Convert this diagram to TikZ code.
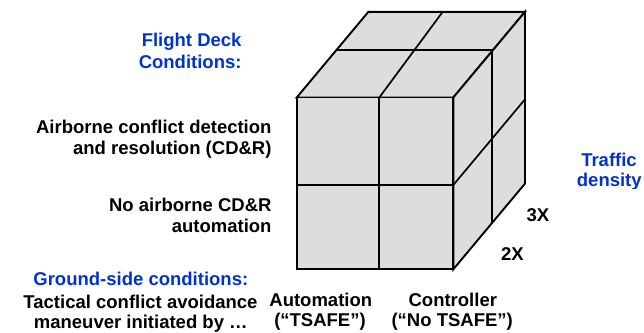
\documentclass[tikz,border=0pt]{standalone}
\usepackage{fontspec}
\setmainfont{Liberation Sans}
\definecolor{hdr}{RGB}{0,51,204}
\definecolor{cubefill}{RGB}{221,221,221}
\tikzset{
  lbl/.style={inner sep=0pt, font=\bfseries\fontsize{18.5}{21}\selectfont, text=black},
  hdrlbl/.style={lbl, text=hdr},
  face/.style={fill=cubefill, draw=black, line width=1.9pt, line join=miter},
  gridline/.style={draw=black, line width=1.7pt},
}
\begin{document}
\begin{tikzpicture}[x=1pt,y=-1pt]
\useasboundingbox (0,0) rectangle (644,332);
\clip (0,0) rectangle (644,332);
% cube corners
\coordinate (A) at (296.7,97.5);
\coordinate (B) at (453.3,97.5);
\coordinate (C) at (453.3,269.3);
\coordinate (D) at (296.7,269.3);
\coordinate (E) at (368.4,11.8);
\coordinate (F) at (525,11.8);
\coordinate (G) at (525,183.6);
% inner division points
\coordinate (fm1) at (379.3,97.5);
\coordinate (fm2) at (379.3,269.3);
\coordinate (fh1) at (296.7,185);
\coordinate (fh2) at (453.3,185);
\coordinate (td1) at (335.7,50);
\coordinate (td2) at (492.3,50);
\coordinate (ts2) at (442.7,11.8);
\coordinate (rv2) at (492.3,222.7);
\coordinate (rh2) at (525,99.3);
% faces
\path[face] (A) -- (E) -- (F) -- (B) -- cycle;
\path[face] (B) -- (F) -- (G) -- (C) -- cycle;
\path[face] (A) -- (B) -- (C) -- (D) -- cycle;
% inner lines
\draw[gridline] (fm1) -- (fm2);
\draw[gridline] (fh1) -- (fh2);
\draw[gridline] (td1) -- (td2);
\draw[gridline] (fm1) -- (ts2);
\draw[gridline] (td2) -- (rv2);
\draw[gridline] (fh2) -- (rh2);
% left labels
\node[hdrlbl, anchor=base east] (fd1) at (241.7,46.7) {Flight Deck};
\node[hdrlbl, anchor=base east] (fd2) at (241.7,68.3) {Conditions:};
\node[lbl, anchor=base east] (ab1) at (271.7,133.3) {Airborne conflict detection};
\node[lbl, anchor=base east] (ab2) at (271.7,154) {and resolution (CD\&R)};
\node[lbl, anchor=base east] (na1) at (271.7,211.7) {No airborne CD\&R};
\node[lbl, anchor=base east] (na2) at (271.7,232.7) {automation};
\node[hdrlbl, anchor=base] (gs1) at (140.8,285.7) {Ground-side conditions:};
\node[lbl, anchor=base] (gs2) at (140.5,308.3) {Tactical conflict avoidance};
\node[lbl, anchor=base] (gs3) at (140.8,328.3) {maneuver initiated by …};
% bottom labels
\node[lbl, anchor=base] (au1) at (320.8,306.7) {Automation};
\node[lbl, anchor=base] (au2) at (320,326.7) {(“TSAFE”)};
\node[lbl, anchor=base] (co1) at (452.8,306.7) {Controller};
\node[lbl, anchor=base] (co2) at (452.2,326.7) {(“No TSAFE”)};
% depth labels
\node[lbl, anchor=base] (x3) at (538,221.7) {3X};
\node[lbl, anchor=base] (x2) at (512.5,260) {2X};
% traffic density
\node[hdrlbl, anchor=base] (tr1) at (609,166.7) {Traffic};
\begin{scope}
\clip (560,140) rectangle (644,188.5);
\node[hdrlbl, anchor=base west] (tr2) at (576.7,186.7) {density};
\end{scope}
\end{tikzpicture}
\end{document}
